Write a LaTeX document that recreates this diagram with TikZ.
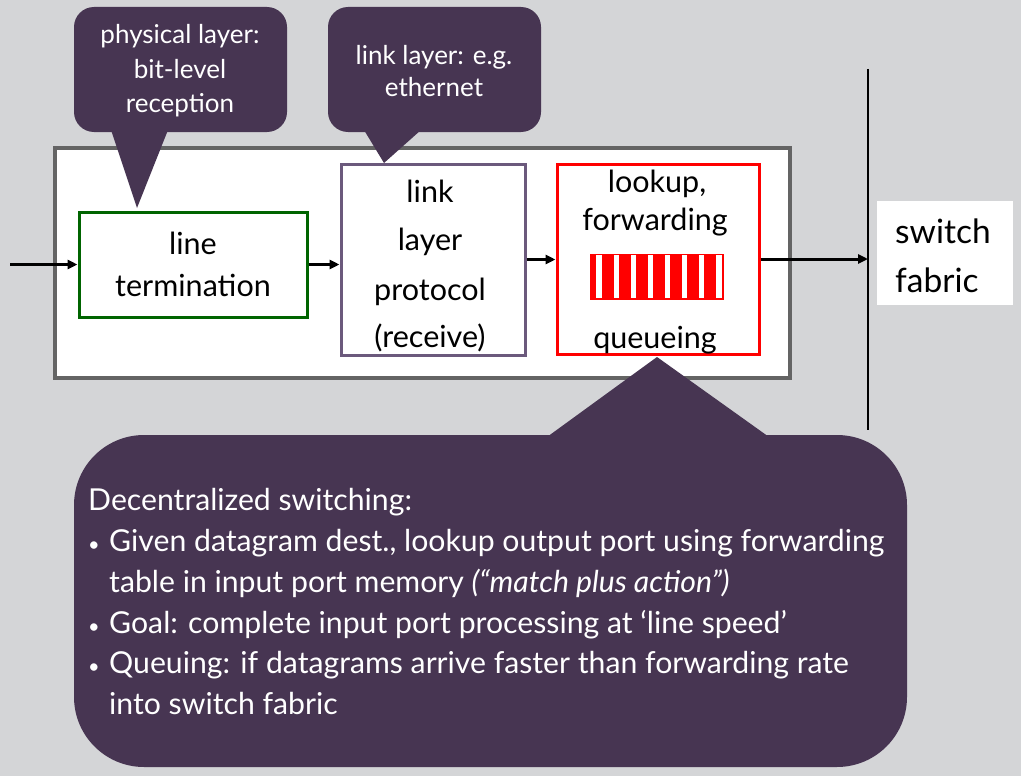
\documentclass[tikz,border=0pt]{standalone}
\usepackage{fontspec}
\setmainfont{Lato}
\usetikzlibrary{arrows.meta}
\definecolor{bggray}{RGB}{212,213,215}
\definecolor{boxgray}{RGB}{100,100,100}
\definecolor{termgreen}{RGB}{0,100,0}
\definecolor{linkpurple}{RGB}{107,89,124}
\definecolor{callout}{RGB}{71,53,82}
\newcommand{\blt}{\makebox[23pt][l]{\hspace{2pt}{\fontsize{20}{20}\selectfont•}}}
\tikzset{
  blockbox/.style={draw, fill=white, line width=3pt, inner sep=0pt},
  flow/.style={line width=3pt, -{Triangle[length=10pt,width=9pt]}},
  boxtext/.style={font=\fontsize{30.5}{41}\selectfont, anchor=base, inner sep=0pt},
  calltext/.style={font=\fontsize{26}{34}\selectfont, text=white, anchor=base, inner sep=0pt},
  bodytext/.style={font=\fontsize{30.2}{41}\selectfont, text=white, anchor=base west, inner sep=0pt},
  fabtext/.style={font=\fontsize{33.5}{48}\selectfont, anchor=base west, inner sep=0pt},
  calloutfill/.style={fill=callout},
}
\begin{document}
\begin{tikzpicture}[x=1pt,y=-1pt]
\useasboundingbox (0,0) rectangle (1021,776);
\fill[bggray] (0,0) rectangle (1021,776);

% outer input-port box
\node[draw=boxgray, fill=white, line width=4pt, minimum width=735pt, minimum height=230pt, inner sep=0pt] (port) at (422.5,263) {};

% blocks
\node[blockbox, draw=termgreen, minimum width=228pt, minimum height=105pt] (term) at (193,264.5) {};
\node[blockbox, draw=linkpurple, minimum width=184pt, minimum height=191pt] (link) at (433,259.5) {};
\node[blockbox, draw=red, minimum width=202pt, minimum height=190pt] (look) at (658,259) {};

\node[boxtext] (t1) at (193,254) {line};
\node[boxtext] (t2) at (193,296) {termination};
\node[boxtext] (l1) at (430,202) {link};
\node[boxtext] (l2) at (430,250) {layer};
\node[boxtext] (l3) at (430,300) {protocol};
\node[boxtext] (l4) at (430,347) {(receive)};
\node[boxtext] (k1) at (657,192) {lookup,};
\node[boxtext] (k2) at (655,230) {forwarding};
\node[boxtext] (k3) at (655,348) {queueing};

% queue
\node[draw=red, line width=1pt, minimum width=133pt, minimum height=45pt, inner sep=0pt] (queue) at (656.5,276.5) {};
\fill[red] (590,254) rectangle (596,299);
\foreach \i in {0,...,6} {
  \fill[red] ({601.7+17.1*\i},254) rectangle ({613.7+17.1*\i},299);
}
\fill[red] (721.5,254) rectangle (723,299);
\fill[red] (590,297.5) rectangle (723,299);

% switch fabric
\coordinate (fabtop) at (868,69);
\coordinate (fabbot) at (868,430);
\draw[line width=1.5pt] (fabtop) -- (fabbot);
\node[fill=white, minimum width=136pt, minimum height=104pt, inner sep=0pt] (fabric) at (945,253) {};
\node[fabtext] (f1) at (895,243) {switch};
\node[fabtext] (f2) at (895,292) {fabric};

% flows
\coordinate (in) at (10,264.5);
\draw[flow] (in) -- (term.west);
\draw[flow] (term.east) -- (term.east -| link.west);
\draw[flow] (link.east) -- (link.east -| look.west);
\draw[flow] (look.east) -- (look.east -| fabtop);

% callout 1
\fill[calloutfill, rounded corners=20pt] (74,7) rectangle (287,132);
\coordinate (tip1) at (137,208);
\fill[calloutfill] (111,130) -- (168,130) -- (tip1) -- cycle;
\node[calltext] (c11) at (180,44) {physical layer:};
\node[calltext] (c12) at (180,79) {bit-level};
\node[calltext] (c13) at (180,113) {reception};

% callout 2
\fill[calloutfill, rounded corners=20pt] (328,7) rectangle (541,132);
\coordinate (tip2) at (384,163);
\fill[calloutfill] (364,130) -- (421,130) -- (tip2) -- cycle;
\node[calltext] (c21) at (434,65) {link layer: e.g.};
\node[calltext] (c22) at (434,97) {ethernet};

% callout 3
\fill[calloutfill, rounded corners=70pt] (74,435) rectangle (907,767);
\coordinate (tip3) at (657,357);
\fill[calloutfill] (547,437) -- (769,437) -- (tip3) -- cycle;
\node[bodytext] (b0) at (88,510) {Decentralized switching:};
\node[bodytext] (b1) at (86,551) {\blt Given datagram dest., lookup output port using forwarding};
\node[bodytext] (b2) at (109,592) {table in input port memory \textit{(“match plus action”)}};
\node[bodytext] (b3) at (86,633) {\blt Goal: complete input port processing at ‘line speed’};
\node[bodytext] (b4) at (86,673) {\blt Queuing: if datagrams arrive faster than forwarding rate};
\node[bodytext] (b5) at (109,714) {into switch fabric};
\end{tikzpicture}
\end{document}
